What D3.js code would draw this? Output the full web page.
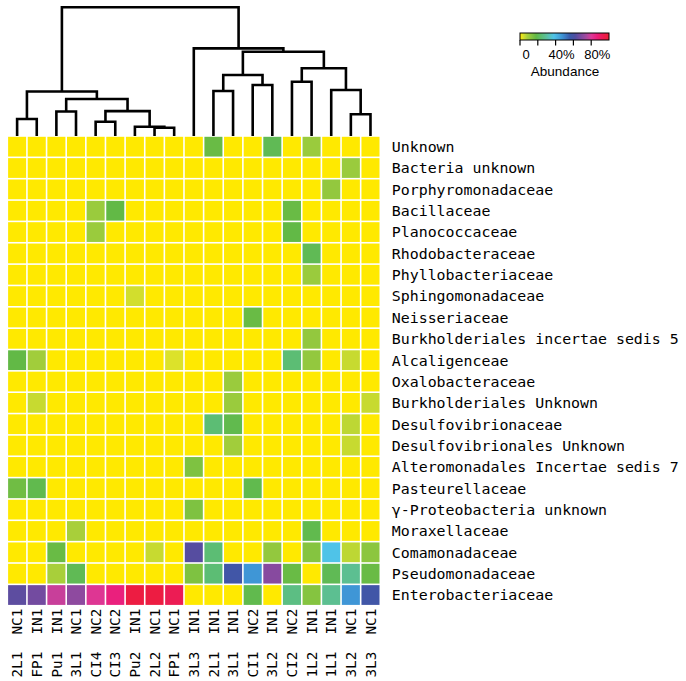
<!DOCTYPE html>
<html><head><meta charset="utf-8">
<script src="https://cdn.jsdelivr.net/npm/d3@7/dist/d3.min.js"></script>
<style>body{margin:0;background:#fff} svg{display:block}</style>
</head><body>
<svg id="chart" width="686" height="681"></svg>
<script>
// ---------------- data ----------------
const families = ["Unknown","Bacteria unknown","Porphyromonadaceae","Bacillaceae","Planococcaceae",
  "Rhodobacteraceae","Phyllobacteriaceae","Sphingomonadaceae","Neisseriaceae",
  "Burkholderiales incertae sedis 5","Alcaligenceae","Oxalobacteraceae","Burkholderiales Unknown",
  "Desulfovibrionaceae","Desulfovibrionales Unknown","Alteromonadales Incertae sedis 7",
  "Pasteurellaceae","\u03b3-Proteobacteria unknown","Moraxellaceae","Comamonadaceae",
  "Pseudomonadaceae","Enterobacteriaceae"];
const sites  = ["2L1","FP1","Pu1","3L1","CI4","CI3","Pu2","2L2","FP1","3L3","2L1","3L1","CI1","3L2","CI2","1L2","1L1","3L2","3L3"];
const groups = ["NC1","IN1","IN1","NC1","NC2","NC2","IN1","NC1","NC1","IN1","IN1","IN1","NC2","IN1","NC2","IN1","IN1","NC1","NC1"];
// abundance (%) per family (rows) and sample (columns)
const abundance = [
  [0,0,0,0,0,0,0,0,0,0,17,0,0,20,0,10,0,0,0],
  [0,0,0,0,0,0,0,0,0,0,0,0,0,0,0,0,0,10,0],
  [0,0,0,0,0,0,0,0,0,0,0,0,0,0,0,0,11,0,0],
  [0,0,0,0,10,18,0,0,0,0,0,0,0,0,17,0,0,0,0],
  [0,0,0,0,10,0,0,0,0,0,0,0,0,0,18,0,0,0,0],
  [0,0,0,0,0,0,0,0,0,0,0,0,0,0,0,20,0,0,0],
  [0,0,0,0,0,0,0,0,0,0,0,0,0,0,0,10,0,0,0],
  [0,0,0,0,0,0,4,0,0,0,0,0,0,0,0,0,0,0,0],
  [0,0,0,0,0,0,0,0,0,0,0,0,17,0,0,0,0,0,0],
  [0,0,0,0,0,0,0,0,0,0,0,0,0,0,0,11,0,0,0],
  [18,9,0,0,0,0,0,0,3,0,0,0,0,0,24,11,0,5,0],
  [0,0,0,0,0,0,0,0,0,0,0,10,0,0,0,0,0,0,0],
  [0,5,0,0,0,0,0,0,0,0,0,10,0,0,0,0,0,0,5],
  [0,0,0,0,0,0,0,0,0,0,24,19,0,0,0,0,0,6,0],
  [0,0,0,0,0,0,0,0,0,0,0,9,0,0,0,0,0,5,0],
  [0,0,0,0,0,0,0,0,0,14,0,0,0,0,0,0,0,0,0],
  [16,19,0,0,0,0,0,0,0,0,0,0,19,0,0,0,0,0,0],
  [0,0,0,0,0,0,0,0,0,14,0,0,0,0,0,0,0,0,0],
  [0,0,0,8,0,0,0,0,0,0,0,0,0,0,0,19,0,0,0],
  [0,0,17,0,0,0,0,5,0,63,24,0,0,11,0,13,38,6,12],
  [0,0,8,20,0,0,0,0,0,14,24,58,47,70,17,0,20,28,17],
  [64,67,78,71,81,86,97,97,93,0,0,0,19,0,26,13,28,47,58]
];
// hierarchical clustering merges (R hclust style): negative = leaf -(index+1), positive = merge number
const mergeLeft   = [-8, -7, -5, -1, -18, -3, 3, 6, 4, -11, -17, -13, -15, 10, 13, 14, -10, 9];
const mergeRight  = [-9,  1, -6, -2, -19, -4, 2, 7, 8, -12,   5, -14, -16, 12, 11, 15, 16, 17];
const mergeHeight = [6.4, 7.2, 11.1, 13.2, 16.9, 19.0, 19.3, 28.7, 34.6, 35.0, 35.7, 39.6, 42.2, 47.4, 52.6, 65.5, 68.1, 100];
// colour key
const colorValues = [0, 3, 8, 12, 18, 24, 30, 38, 47, 56, 62, 68, 74, 80, 87, 94, 100];
const colorRange  = ["#ffe900","#dce22a","#a8cf3a","#8cc63f","#62b946","#5cbd74","#5cc0a0","#4fc3e8",
                     "#3f96d6","#3a5aab","#4f4ea0","#7a4aa0","#a14a9e","#dc3a98","#ec1c78","#ec1c4e","#ee1c36"];
const legendTicks  = [0, 20, 40, 60, 80];
const legendLabels = [0, 40, 80];
const legendTitle  = "Abundance";

// ---------------- layout ----------------
const svg = d3.select("#chart");
const grid = {x0: 7.3, x1: 380.3, y0: 136, y1: 605.7};
const x = d3.scaleBand().domain(d3.range(sites.length)).range([grid.x0, grid.x1]);
const y = d3.scaleBand().domain(families).range([grid.y0, grid.y1]);
const color = d3.scaleLinear().domain(colorValues).range(colorRange).clamp(true);
const hY = d3.scaleLinear().domain([0, d3.max(mergeHeight)]).range([grid.y0, 7.3]);
const monoFont = "'DejaVu Sans Mono', 'Liberation Mono', monospace";
const sansFont = "'Liberation Sans', Arial, sans-serif";

// heatmap cells
const cells = [];
abundance.forEach((row, r) => row.forEach((v, c) => cells.push({r, c, v})));
const gap = 0.8;
svg.append("g").selectAll("rect").data(cells).join("rect")
  .attr("x", d => x(d.c) + gap)
  .attr("y", d => y(families[d.r]) + gap)
  .attr("width", x.bandwidth() - 2 * gap)
  .attr("height", y.bandwidth() - 2 * gap)
  .attr("fill", d => color(d.v));

// dendrogram
const nodes = [];
function pos(k) {
  if (k < 0) return {x: x(-k - 1) + x.bandwidth() / 2, y: hY(0)};
  return nodes[k - 1];
}
const dendroPaths = [];
mergeHeight.forEach((h, i) => {
  const a = pos(mergeLeft[i]), b = pos(mergeRight[i]);
  const ny = hY(h);
  nodes.push({x: (a.x + b.x) / 2, y: ny});
  const p = d3.path();
  p.moveTo(a.x, a.y); p.lineTo(a.x, ny); p.lineTo(b.x, ny); p.lineTo(b.x, b.y);
  dendroPaths.push(p.toString());
});
svg.append("g").selectAll("path").data(dendroPaths).join("path")
  .attr("d", d => d).attr("fill", "none").attr("stroke", "#000")
  .attr("stroke-width", 2.6).attr("stroke-linejoin", "miter");

// row labels
svg.append("g").selectAll("text").data(families).join("text")
  .attr("x", grid.x1 + 11.5)
  .attr("y", d => y(d) + y.bandwidth() / 2)
  .attr("dy", "0.36em")
  .attr("font-family", monoFont).attr("font-size", 14.9).attr("fill", "#000")
  .text(d => d);

// column labels
svg.append("g").selectAll("text").data(sites).join("text")
  .attr("transform", (d, i) => `translate(${x(i) + x.bandwidth() / 2},${grid.y1 + 3}) rotate(-90)`)
  .attr("text-anchor", "end").attr("dy", "0.36em")
  .attr("font-family", monoFont).attr("font-size", 14.3).attr("fill", "#000")
  .style("white-space", "pre")
  .text((d, i) => d + "  " + groups[i]);

// colour key
const lx = d3.scaleLinear().domain([0, 100]).range([520, 609]);
const defs = svg.append("defs");
const grad = defs.append("linearGradient").attr("id", "keygrad");
d3.range(0, 101, 2).forEach(v => grad.append("stop").attr("offset", v + "%").attr("stop-color", color(v)));
const key = svg.append("g");
key.append("rect").attr("x", lx(0)).attr("y", 33).attr("width", lx(100) - lx(0)).attr("height", 7)
  .attr("fill", "url(#keygrad)").attr("stroke", "#000").attr("stroke-width", 1);
key.selectAll("line").data(legendTicks).join("line")
  .attr("x1", d => lx(d)).attr("x2", d => lx(d)).attr("y1", 40).attr("y2", 45.5)
  .attr("stroke", "#000").attr("stroke-width", 1.2);
key.selectAll("text.lab").data(legendLabels).join("text").attr("class", "lab")
  .attr("x", d => lx(d) + 6).attr("y", 58.5).attr("text-anchor", "middle")
  .attr("font-family", sansFont).attr("font-size", 13)
  .text(d => d === 0 ? "0" : d + "%");
key.append("text").attr("x", (lx(0) + lx(100)) / 2 + 0.5).attr("y", 75.5).attr("text-anchor", "middle")
  .attr("font-family", sansFont).attr("font-size", 13.5)
  .text(legendTitle);
</script>
</body></html>
